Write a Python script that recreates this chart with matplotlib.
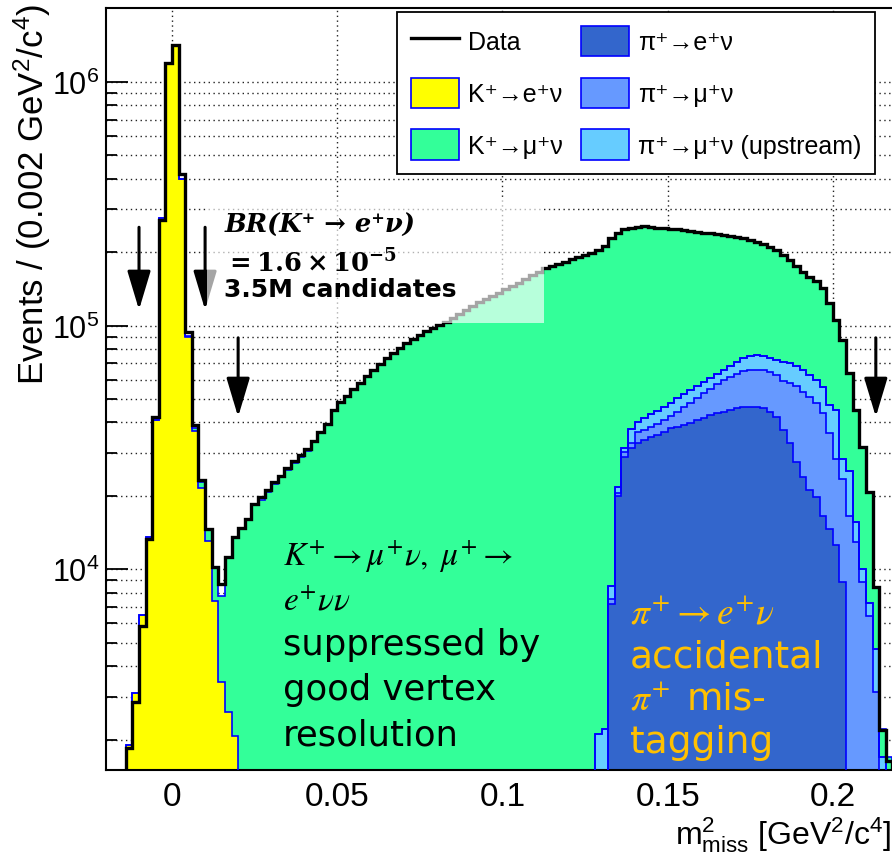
import numpy as np
import matplotlib
matplotlib.use("Agg")
import matplotlib.pyplot as plt
from matplotlib.patches import Rectangle, Patch
from matplotlib.lines import Line2D
from matplotlib.ticker import MultipleLocator, NullFormatter, FuncFormatter

plt.rcParams['font.family'] = ['Liberation Sans', 'DejaVu Sans']
plt.rcParams['mathtext.fontset'] = 'custom'
plt.rcParams['mathtext.rm'] = 'Liberation Sans'
plt.rcParams['mathtext.it'] = 'Liberation Sans:italic'
plt.rcParams['mathtext.bf'] = 'Liberation Sans:bold'

# m2miss bins of 0.002 GeV^2/c^4, -0.02 .. 0.22
edges = np.linspace(-0.02, 0.22, 121)

data = [600, 800, 1200, 1840, 2860, 5850, 13300, 42000, 270000, 1200000,
        1420000, 420000, 94000, 39000, 23300, 14600, 10200, 8700, 11200, 13600,
        14800, 16000, 18450, 19700, 21200, 22700, 24200, 25900, 27700, 29300,
        31000, 33700, 36700, 39600, 45000, 48500, 51500, 55000, 58200, 62200,
        65800, 69600, 73600, 77200, 80900, 84800, 88100, 91400, 94900, 97700,
        100500, 103400, 107300, 111400, 115700, 120200, 124800, 128300, 132000, 135800,
        141000, 145100, 149200, 154900, 160900, 165500, 171900, 175200, 178500, 181800,
        187100, 190600, 194200, 197900, 203600, 211400, 227900, 238900, 248100, 250500,
        252900, 255300, 252900, 250500, 250500, 248100, 248100, 245800, 243500, 241200,
        238900, 238900, 236700, 234500, 232300, 230100, 227900, 223700, 219500, 215400,
        209400, 203600, 194200, 185300, 175200, 165500, 157900, 152100, 142300, 124000,
        105000, 87200, 64000, 45100, 31800, 20700, 8440, 2180, 1640, 1000]

ke2 = [0, 0, 900, 1900, 3100, 6500, 13500, 41000, 275000, 1190000,
       1410000, 400000, 90000, 37000, 21500, 13000, 7400, 3450, 2600, 2060,
       1300, 900, 600] + [0] * 97

kmu2 = [0, 0, 0, 0, 0, 0, 0, 0, 300, 400,
        400, 500, 700, 900, 1200, 1500, 2800, 4300, 8600, 11500,
        13500, 15100, 17800, 19300, 20800, 22400, 23800, 25600, 27200, 29000,
        30600, 33200, 36300, 39200, 44500, 48000, 51000, 54500, 57800, 61800,
        65500, 69200, 73200, 77000, 80600, 84600, 87900, 91200, 94700, 97500,
        100300, 103200, 107000, 111200, 115500, 120000, 124600, 128100, 131800, 135600,
        140800, 145000, 149000, 154700, 160700, 165300, 171700, 175000, 178300, 181600,
        187000, 190400, 194000, 197700, 201500, 209200, 219400, 217100, 216550, 213100,
        212600, 213500, 209400, 205800, 204100, 199900, 197600, 193300, 189000, 184650,
        180100, 177900, 173400, 168700, 164000, 159100, 154300, 148700, 143500, 140400,
        135800, 131600, 123200, 115300, 106900, 99700, 95100, 92250, 86300, 76800,
        59900, 59000, 38800, 29500, 21800, 13400, 3740, 500, 1700, 900]

pie = [0] * 74 + [300, 600, 7200, 19900, 29000, 31500, 33100, 34000, 35000, 35600,
                  36700, 38100, 38400, 39200, 39900, 41100, 41800, 43100, 43900, 44300,
                  45100, 46000, 46400, 46400, 46400, 46000, 44300, 42200, 37400, 33100,
                  27600, 24000, 21200, 19700, 16500, 14600, 12600, 8850, 1000, 300,
                  0, 0, 0, 0, 0, 0]

pimu = [0] * 74 + [200, 300, 340, 600, 1400, 1500, 3600, 3400, 3450, 3950,
                   4400, 4550, 5900, 7200, 8300, 9400, 11200, 11900, 13750, 15550,
                   16500, 17300, 18750, 19400, 19400, 19800, 20200, 20550, 21900, 25100,
                   28950, 29500, 29800, 28500, 27400, 21750, 15600, 14500, 15500, 12600,
                   8850, 6420, 3140, 0, 0, 0]

pimu_up = [0] * 74 + [1610, 1320, 960, 1300, 1150, 4450, 3600, 4400, 5050, 5150,
                      5300, 5550, 6200, 6100, 6300, 6050, 5800, 6000, 5650, 5950,
                      6700, 7700, 8450, 9200, 10200, 9200, 9100, 9250, 11700, 11800,
                      11750, 12300, 11800, 11650, 12100, 10850, 16900, 4850, 8700, 2700,
                      1150, 880, 1560, 1700, 0, 0]

stack_labels = ['π⁺→e⁺ν', 'π⁺→μ⁺ν', 'π⁺→μ⁺ν (upstream)', 'K⁺→e⁺ν', 'K⁺→μ⁺ν']
stack_colors = ['#3366cc', '#6699ff', '#66ccff', '#ffff00', '#33ff99']
edge_blue = '#0000ff'

# cut arrows (x, tail, tip)
arrow_x = [-0.01, 0.01, 0.02, 0.213]
arrow_tail = [2.53e5, 2.53e5, 8.9e4, 8.9e4]
arrow_tip = [1.16e5, 1.16e5, 4.22e4, 4.22e4]

W, H = 892, 854


def fx(px):
    return px / W


def fy(py):
    return 1 - py / H


fig = plt.figure(figsize=(W / 100, H / 100), dpi=100)
ax = fig.add_axes([0.1188, 0.0972, 0.8890, 0.8917])
ax.set_yscale('log')
ax.set_xlim(-0.02, 0.22)
ax.set_ylim(1500, 2e6)

# stacked MC
cum = np.zeros(len(data))
for vals, col in zip([pie, pimu, pimu_up, ke2, kmu2], stack_colors):
    lo = cum.copy()
    cum = cum + np.array(vals, float)
    ax.stairs(np.maximum(cum, 1), edges, baseline=np.maximum(lo, 1), fill=True,
              color=col, zorder=2)
    ax.stairs(np.maximum(cum, 1), edges, baseline=None, color=edge_blue, lw=1.2, zorder=3)

ax.stairs(np.array(data, float), edges, baseline=None, color='k', lw=2.4, zorder=4)

# axes style (ROOT like)
ax.xaxis.set_major_locator(MultipleLocator(0.05))
ax.xaxis.set_minor_locator(MultipleLocator(0.01))
ax.xaxis.set_major_formatter(FuncFormatter(lambda v, p: f"{abs(round(v, 3)):g}"))
ax.yaxis.set_minor_formatter(NullFormatter())
ax.tick_params(which='both', direction='in', top=False, right=False, width=1.3)
ax.tick_params(which='major', length=16)
ax.tick_params(which='minor', length=8)
ax.tick_params(axis='x', pad=8, labelsize=24)
ax.tick_params(axis='y', pad=5, labelsize=22)
for s in ax.spines.values():
    s.set_linewidth(1.5)

# dotted grid below the histograms
ylo, yhi = ax.get_ylim()
for v in np.concatenate([ax.get_yticks(), ax.yaxis.get_minorticklocs()]):
    if ylo < v < yhi:
        ax.axhline(v, color='#222222', lw=1.0, ls=(0, (1, 2.5)), zorder=0.5)
for v in ax.get_xticks():
    if -0.02 < v < 0.22:
        ax.axvline(v, color='#222222', lw=1.0, ls=(0, (1, 2.5)), zorder=0.5)

# cut arrows
for x, t0, t1 in zip(arrow_x, arrow_tail, arrow_tip):
    ax.annotate('', xy=(x, t1), xytext=(x, t0), zorder=4.5,
                arrowprops=dict(arrowstyle='-|>,head_length=2.4,head_width=0.72',
                                mutation_scale=10, lw=2.2, color='k',
                                shrinkA=0, shrinkB=0))

# washed-out box behind the BR text
ax.add_patch(Rectangle((0.0105, 1.02e5), 0.102, 3.3e5 - 1.02e5, facecolor='white',
                       edgecolor='none', alpha=0.65, zorder=5))

fig.text(fx(225), fy(233), 'BR(K⁺ → e⁺ν)', family=['DejaVu Serif'], weight='bold',
         style='italic', fontsize=18.5, va='baseline', zorder=6)
fig.text(fx(225), fy(272), r'$\mathbf{=1.6\times10^{-5}}$', math_fontfamily='dejavuserif',
         fontsize=18.5, va='baseline', zorder=6)
fig.text(fx(224), fy(297), '3.5M candidates', family=['DejaVu Sans'], weight='bold',
         fontsize=18, va='baseline', zorder=6)

# K mu2 annotation
fig.text(fx(283), fy(566), r'$K^{+}\rightarrow\mu^{+}\nu,\ \mu^{+}\rightarrow$',
         math_fontfamily='stix', fontsize=24, va='baseline')
fig.text(fx(283), fy(610), r'$e^{+}\nu\nu$', math_fontfamily='stix', fontsize=24,
         va='baseline')
for txt, yb in zip(['suppressed by', 'good vertex', 'resolution'], [655, 700, 746]):
    fig.text(fx(283), fy(yb), txt, family=['DejaVu Sans'], fontsize=25.5, va='baseline')

# pi e2 annotation
orange = '#ffc000'
fig.text(fx(630), fy(623), r'$\pi^{+}\rightarrow e^{+}\nu$', math_fontfamily='stix',
         fontsize=27, color=orange, va='baseline')
fig.text(fx(630), fy(668), 'accidental', family=['DejaVu Sans'], fontsize=27,
         color=orange, va='baseline')
fig.text(fx(630), fy(710), r'$\pi^{+}$', math_fontfamily='stix', fontsize=27,
         color=orange, va='baseline')
fig.text(fx(687), fy(710), 'mis-', family=['DejaVu Sans'], fontsize=27,
         color=orange, va='baseline')
fig.text(fx(630), fy(753), 'tagging', family=['DejaVu Sans'], fontsize=27,
         color=orange, va='baseline')

# axis titles
fig.text(fx(32), fy(4), r'Events / (0.002 GeV$^{2}$/c$^{4}$)', rotation=90,
         ha='center', va='top', fontsize=25)
fig.text(fx(891), fy(845), r'm$^{2}_{\rm miss}$ [GeV$^{2}$/c$^{4}$]', ha='right',
         va='baseline', fontsize=23)

# legend
handles = [Line2D([], [], color='k', lw=2.4)]
labels = ['Data']
for i in [3, 4, 0, 1, 2]:
    handles.append(Patch(facecolor=stack_colors[i], edgecolor=edge_blue, lw=1.2))
    labels.append(stack_labels[i])
leg = fig.legend(handles, labels, ncol=2, loc='upper left',
                 bbox_to_anchor=(fx(397), fy(13)), frameon=True, fancybox=False,
                 edgecolor='k', framealpha=1, fontsize=18, handlelength=1.92,
                 handleheight=1.5, handletextpad=0.36, labelspacing=0.85,
                 columnspacing=0.74, borderpad=0.55, borderaxespad=0)
leg.get_frame().set_linewidth(1.3)

fig.savefig('out.png', dpi=100)
